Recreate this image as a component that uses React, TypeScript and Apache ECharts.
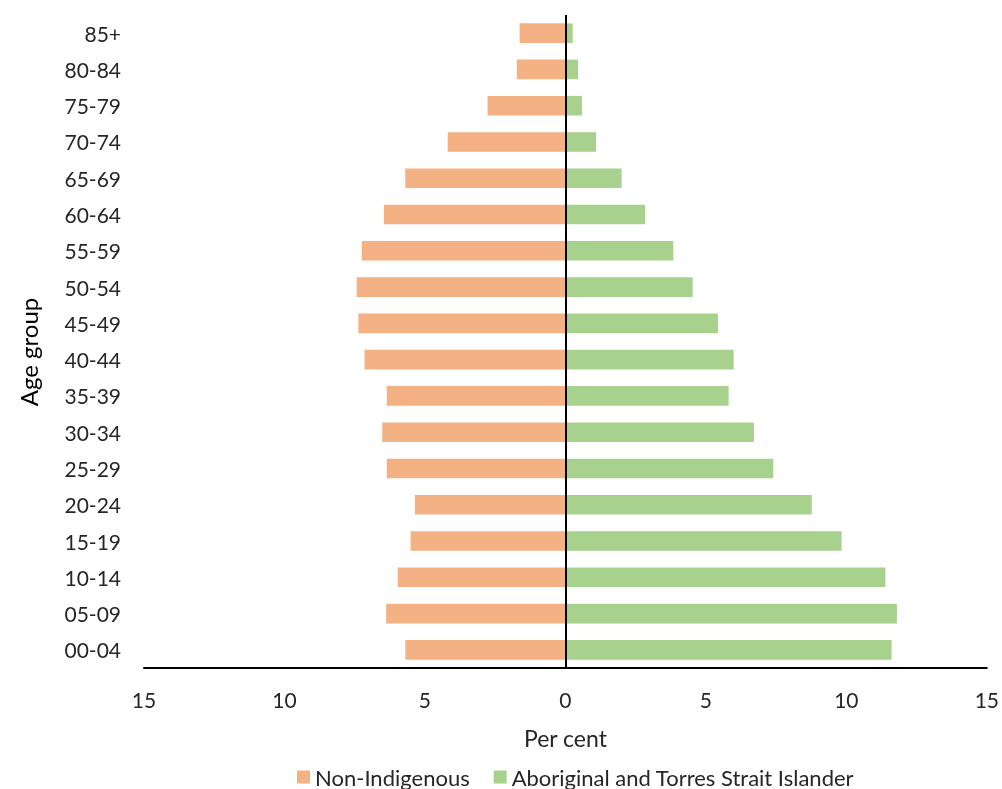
import React, { useEffect, useRef } from "react";
import * as echarts from "echarts";

const ageGroups = ["00-04", "05-09", "10-14", "15-19", "20-24", "25-29", "30-34", "35-39", "40-44", "45-49", "50-54", "55-59", "60-64", "65-69", "70-74", "75-79", "80-84", "85+"];
const nonIndigenous = [5.7, 6.38, 5.97, 5.51, 5.36, 6.36, 6.52, 6.36, 7.15, 7.37, 7.43, 7.25, 6.46, 5.7, 4.19, 2.77, 1.73, 1.63];
const indigenous = [11.61, 11.8, 11.39, 9.83, 8.77, 7.4, 6.71, 5.81, 5.99, 5.43, 4.53, 3.84, 2.84, 2.0, 1.09, 0.59, 0.45, 0.26];
const xTicks = [-15, -10, -5, 0, 5, 10, 15];

const FONT = "Lato, 'Open Sans', sans-serif";

export default function App() {
  const ref = useRef<HTMLDivElement>(null);
  useEffect(() => {
    if (!ref.current) return;
    const chart = echarts.init(ref.current, null, { renderer: "svg" });
    chart.setOption({
      animation: false,
      textStyle: { fontFamily: FONT },
      legend: {
        top: 761,
        left: 292,
        itemWidth: 13,
        itemHeight: 13,
        itemGap: 24,
        icon: "rect",
        textStyle: { fontSize: 22, color: "#262626", fontFamily: FONT },
        data: ["Non-Indigenous", "Aboriginal and Torres Strait Islander"],
      },
      graphic: [
        {
          type: "text",
          x: 28,
          y: 352,
          rotation: Math.PI / 2,
          style: {
            text: "Age group",
            fontSize: 24,
            fontFamily: FONT,
            fill: "#000",
            align: "center",
            verticalAlign: "middle",
          },
        },
      ],
      grid: { left: 144, right: 14, top: 15, bottom: 121, containLabel: false },
      xAxis: {
        type: "value",
        min: xTicks[0],
        max: xTicks[xTicks.length - 1],
        interval: 5,
        name: "Per cent",
        nameLocation: "middle",
        nameGap: 58,
        nameTextStyle: { fontSize: 23, color: "#262626", fontFamily: FONT },
        axisLine: { show: true, onZero: false, lineStyle: { color: "#000", width: 2 } },
        axisTick: { show: false },
        splitLine: { show: false },
        axisLabel: {
          fontSize: 21,
          color: "#262626",
          margin: 21,
          fontFamily: FONT,
          formatter: (v: number) => String(Math.abs(v)),
        },
      },
      yAxis: {
        type: "category",
        data: ageGroups,
        axisLine: { show: false },
        axisTick: { show: false },
        axisLabel: { fontSize: 21, color: "#262626", margin: 23, fontFamily: FONT },
      },
      series: [
        {
          name: "Non-Indigenous",
          type: "bar",
          stack: "pop",
          barCategoryGap: "46%",
          itemStyle: { color: "#F4B183" },
          data: nonIndigenous.map((v) => -v),
        },
        {
          name: "Aboriginal and Torres Strait Islander",
          type: "bar",
          stack: "pop",
          barCategoryGap: "46%",
          itemStyle: { color: "#A9D18E" },
          data: indigenous,
          markLine: {
            silent: true,
            symbol: ["none", "none"],
            label: { show: false },
            lineStyle: { color: "#000", width: 2, type: "solid" },
            data: [{ xAxis: 0 }],
          },
        },
      ],
    });
    return () => chart.dispose();
  }, []);
  return <div ref={ref} style={{ position: "fixed", left: 0, top: 0, width: 1002, height: 789 }} />;
}
